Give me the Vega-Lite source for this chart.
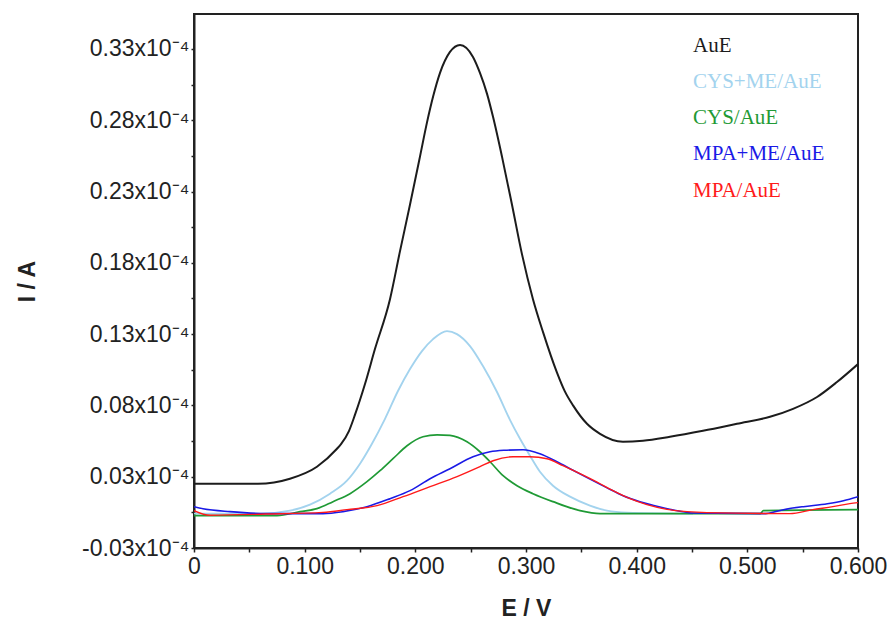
{
  "$schema": "https://vega.github.io/schema/vega-lite/v6.json",
  "autosize": "none",
  "padding": {"left": 194, "top": 14, "right": 35, "bottom": 75},
  "width": 664,
  "height": 534,
  "background": "white",
  "config": {
    "view": {"stroke": "#222", "strokeWidth": 2},
    "axis": {"grid": false, "domainColor": "#222", "domainWidth": 2, "tickColor": "#222", "tickWidth": 1.5, "labelFont": "Liberation Sans", "labelColor": "#222", "titleFont": "Liberation Sans", "titleColor": "#222"}
  },
  "data": {"values": [
    {"series": "AuE", "E": 0, "I": 0.0251},
    {"series": "AuE", "E": 0.0578, "I": 0.0251},
    {"series": "AuE", "E": 0.0867, "I": 0.0286},
    {"series": "AuE", "E": 0.1111, "I": 0.0370},
    {"series": "AuE", "E": 0.1292, "I": 0.0496},
    {"series": "AuE", "E": 0.1330, "I": 0.0530},
    {"series": "AuE", "E": 0.1400, "I": 0.0620},
    {"series": "AuE", "E": 0.1455, "I": 0.0735},
    {"series": "AuE", "E": 0.1545, "I": 0.0950},
    {"series": "AuE", "E": 0.1635, "I": 0.1195},
    {"series": "AuE", "E": 0.1771, "I": 0.1545},
    {"series": "AuE", "E": 0.1861, "I": 0.1880},
    {"series": "AuE", "E": 0.1952, "I": 0.2209},
    {"series": "AuE", "E": 0.2042, "I": 0.2545},
    {"series": "AuE", "E": 0.2105, "I": 0.2783},
    {"series": "AuE", "E": 0.2160, "I": 0.2964},
    {"series": "AuE", "E": 0.2223, "I": 0.3132},
    {"series": "AuE", "E": 0.2313, "I": 0.3279},
    {"series": "AuE", "E": 0.2404, "I": 0.3328},
    {"series": "AuE", "E": 0.2521, "I": 0.3244},
    {"series": "AuE", "E": 0.2584, "I": 0.3132},
    {"series": "AuE", "E": 0.2648, "I": 0.2985},
    {"series": "AuE", "E": 0.2702, "I": 0.2824},
    {"series": "AuE", "E": 0.2783, "I": 0.2545},
    {"series": "AuE", "E": 0.2873, "I": 0.2209},
    {"series": "AuE", "E": 0.2964, "I": 0.1859},
    {"series": "AuE", "E": 0.3063, "I": 0.1545},
    {"series": "AuE", "E": 0.3154, "I": 0.1314},
    {"series": "AuE", "E": 0.3280, "I": 0.1030},
    {"series": "AuE", "E": 0.3350, "I": 0.0900},
    {"series": "AuE", "E": 0.3425, "I": 0.0800},
    {"series": "AuE", "E": 0.3551, "I": 0.0671},
    {"series": "AuE", "E": 0.3669, "I": 0.0601},
    {"series": "AuE", "E": 0.3876, "I": 0.0545},
    {"series": "AuE", "E": 0.4057, "I": 0.0552},
    {"series": "AuE", "E": 0.4301, "I": 0.0580},
    {"series": "AuE", "E": 0.4599, "I": 0.0622},
    {"series": "AuE", "E": 0.4906, "I": 0.0671},
    {"series": "AuE", "E": 0.5205, "I": 0.0720},
    {"series": "AuE", "E": 0.5413, "I": 0.0776},
    {"series": "AuE", "E": 0.5630, "I": 0.0859},
    {"series": "AuE", "E": 0.5810, "I": 0.0964},
    {"series": "AuE", "E": 0.6, "I": 0.1090},

    {"series": "CYS+ME/AuE", "E": 0, "I": 0.0041},
    {"series": "CYS+ME/AuE", "E": 0.0596, "I": 0.0041},
    {"series": "CYS+ME/AuE", "E": 0.0867, "I": 0.0062},
    {"series": "CYS+ME/AuE", "E": 0.1048, "I": 0.0104},
    {"series": "CYS+ME/AuE", "E": 0.1229, "I": 0.0181},
    {"series": "CYS+ME/AuE", "E": 0.1382, "I": 0.0272},
    {"series": "CYS+ME/AuE", "E": 0.1500, "I": 0.0391},
    {"series": "CYS+ME/AuE", "E": 0.1608, "I": 0.0531},
    {"series": "CYS+ME/AuE", "E": 0.1726, "I": 0.0706},
    {"series": "CYS+ME/AuE", "E": 0.1843, "I": 0.0901},
    {"series": "CYS+ME/AuE", "E": 0.1952, "I": 0.1055},
    {"series": "CYS+ME/AuE", "E": 0.2060, "I": 0.1181},
    {"series": "CYS+ME/AuE", "E": 0.2160, "I": 0.1265},
    {"series": "CYS+ME/AuE", "E": 0.2286, "I": 0.1321},
    {"series": "CYS+ME/AuE", "E": 0.2376, "I": 0.1300},
    {"series": "CYS+ME/AuE", "E": 0.2494, "I": 0.1216},
    {"series": "CYS+ME/AuE", "E": 0.2611, "I": 0.1076},
    {"series": "CYS+ME/AuE", "E": 0.2738, "I": 0.0894},
    {"series": "CYS+ME/AuE", "E": 0.2855, "I": 0.0699},
    {"series": "CYS+ME/AuE", "E": 0.2946, "I": 0.0566},
    {"series": "CYS+ME/AuE", "E": 0.3036, "I": 0.0447},
    {"series": "CYS+ME/AuE", "E": 0.3126, "I": 0.0335},
    {"series": "CYS+ME/AuE", "E": 0.3244, "I": 0.0237},
    {"series": "CYS+ME/AuE", "E": 0.3398, "I": 0.0160},
    {"series": "CYS+ME/AuE", "E": 0.3578, "I": 0.0097},
    {"series": "CYS+ME/AuE", "E": 0.3732, "I": 0.0062},
    {"series": "CYS+ME/AuE", "E": 0.3913, "I": 0.0048},
    {"series": "CYS+ME/AuE", "E": 0.4509, "I": 0.0041},

    {"series": "CYS/AuE", "E": 0, "I": 0.0027},
    {"series": "CYS/AuE", "E": 0.0750, "I": 0.0027},
    {"series": "CYS/AuE", "E": 0.0958, "I": 0.0055},
    {"series": "CYS/AuE", "E": 0.1111, "I": 0.0076},
    {"series": "CYS/AuE", "E": 0.1256, "I": 0.0125},
    {"series": "CYS/AuE", "E": 0.1410, "I": 0.0181},
    {"series": "CYS/AuE", "E": 0.1563, "I": 0.0265},
    {"series": "CYS/AuE", "E": 0.1681, "I": 0.0342},
    {"series": "CYS/AuE", "E": 0.1798, "I": 0.0426},
    {"series": "CYS/AuE", "E": 0.1925, "I": 0.0517},
    {"series": "CYS/AuE", "E": 0.2069, "I": 0.0580},
    {"series": "CYS/AuE", "E": 0.2196, "I": 0.0594},
    {"series": "CYS/AuE", "E": 0.2313, "I": 0.0590},
    {"series": "CYS/AuE", "E": 0.2467, "I": 0.0545},
    {"series": "CYS/AuE", "E": 0.2584, "I": 0.0475},
    {"series": "CYS/AuE", "E": 0.2675, "I": 0.0405},
    {"series": "CYS/AuE", "E": 0.2793, "I": 0.0307},
    {"series": "CYS/AuE", "E": 0.2919, "I": 0.0237},
    {"series": "CYS/AuE", "E": 0.3063, "I": 0.0181},
    {"series": "CYS/AuE", "E": 0.3244, "I": 0.0125},
    {"series": "CYS/AuE", "E": 0.3488, "I": 0.0062},
    {"series": "CYS/AuE", "E": 0.3669, "I": 0.0041},
    {"series": "CYS/AuE", "E": 0.5116, "I": 0.0041},
    {"series": "CYS/AuE", "E": 0.5145, "I": 0.0062},
    {"series": "CYS/AuE", "E": 0.6, "I": 0.0069},

    {"series": "MPA+ME/AuE", "E": 0, "I": 0.0090},
    {"series": "MPA+ME/AuE", "E": 0.0081, "I": 0.0076},
    {"series": "MPA+ME/AuE", "E": 0.0325, "I": 0.0055},
    {"series": "MPA+ME/AuE", "E": 0.0660, "I": 0.0041},
    {"series": "MPA+ME/AuE", "E": 0.1165, "I": 0.0041},
    {"series": "MPA+ME/AuE", "E": 0.1346, "I": 0.0055},
    {"series": "MPA+ME/AuE", "E": 0.1563, "I": 0.0090},
    {"series": "MPA+ME/AuE", "E": 0.1771, "I": 0.0146},
    {"series": "MPA+ME/AuE", "E": 0.1952, "I": 0.0202},
    {"series": "MPA+ME/AuE", "E": 0.2133, "I": 0.0286},
    {"series": "MPA+ME/AuE", "E": 0.2313, "I": 0.0356},
    {"series": "MPA+ME/AuE", "E": 0.2521, "I": 0.0440},
    {"series": "MPA+ME/AuE", "E": 0.2675, "I": 0.0475},
    {"series": "MPA+ME/AuE", "E": 0.2800, "I": 0.0485},
    {"series": "MPA+ME/AuE", "E": 0.2973, "I": 0.0489},
    {"series": "MPA+ME/AuE", "E": 0.3126, "I": 0.0461},
    {"series": "MPA+ME/AuE", "E": 0.3280, "I": 0.0405},
    {"series": "MPA+ME/AuE", "E": 0.3425, "I": 0.0345},
    {"series": "MPA+ME/AuE", "E": 0.3578, "I": 0.0283},
    {"series": "MPA+ME/AuE", "E": 0.3732, "I": 0.0222},
    {"series": "MPA+ME/AuE", "E": 0.3877, "I": 0.0167},
    {"series": "MPA+ME/AuE", "E": 0.4030, "I": 0.0125},
    {"series": "MPA+ME/AuE", "E": 0.4211, "I": 0.0088},
    {"series": "MPA+ME/AuE", "E": 0.4392, "I": 0.0058},
    {"series": "MPA+ME/AuE", "E": 0.4509, "I": 0.0045},
    {"series": "MPA+ME/AuE", "E": 0.5145, "I": 0.0041},
    {"series": "MPA+ME/AuE", "E": 0.5325, "I": 0.0069},
    {"series": "MPA+ME/AuE", "E": 0.5506, "I": 0.0090},
    {"series": "MPA+ME/AuE", "E": 0.5723, "I": 0.0111},
    {"series": "MPA+ME/AuE", "E": 0.5868, "I": 0.0132},
    {"series": "MPA+ME/AuE", "E": 0.6, "I": 0.0160},

    {"series": "MPA/AuE", "E": 0, "I": 0.0062},
    {"series": "MPA/AuE", "E": 0.0145, "I": 0.0030},
    {"series": "MPA/AuE", "E": 0.0650, "I": 0.0038},
    {"series": "MPA/AuE", "E": 0.1165, "I": 0.0050},
    {"series": "MPA/AuE", "E": 0.1382, "I": 0.0069},
    {"series": "MPA/AuE", "E": 0.1654, "I": 0.0097},
    {"series": "MPA/AuE", "E": 0.1889, "I": 0.0160},
    {"series": "MPA/AuE", "E": 0.2133, "I": 0.0230},
    {"series": "MPA/AuE", "E": 0.2377, "I": 0.0300},
    {"series": "MPA/AuE", "E": 0.2584, "I": 0.0370},
    {"series": "MPA/AuE", "E": 0.2702, "I": 0.0412},
    {"series": "MPA/AuE", "E": 0.2883, "I": 0.0440},
    {"series": "MPA/AuE", "E": 0.3036, "I": 0.0440},
    {"series": "MPA/AuE", "E": 0.3190, "I": 0.0426},
    {"series": "MPA/AuE", "E": 0.3334, "I": 0.0377},
    {"series": "MPA/AuE", "E": 0.3488, "I": 0.0321},
    {"series": "MPA/AuE", "E": 0.3642, "I": 0.0262},
    {"series": "MPA/AuE", "E": 0.3786, "I": 0.0202},
    {"series": "MPA/AuE", "E": 0.3940, "I": 0.0146},
    {"series": "MPA/AuE", "E": 0.4093, "I": 0.0104},
    {"series": "MPA/AuE", "E": 0.4274, "I": 0.0071},
    {"series": "MPA/AuE", "E": 0.4455, "I": 0.0055},
    {"series": "MPA/AuE", "E": 0.4636, "I": 0.0048},
    {"series": "MPA/AuE", "E": 0.5384, "I": 0.0041},
    {"series": "MPA/AuE", "E": 0.5591, "I": 0.0069},
    {"series": "MPA/AuE", "E": 0.5772, "I": 0.0090},
    {"series": "MPA/AuE", "E": 0.5926, "I": 0.0111},
    {"series": "MPA/AuE", "E": 0.6, "I": 0.0118}
  ]},
  "mark": {"type": "line", "interpolate": "monotone", "clip": true},
  "encoding": {
    "x": {
      "field": "E", "type": "quantitative",
      "scale": {"domain": [0, 0.6], "nice": false, "zero": false},
      "axis": {
        "title": "E / V",
        "titleFontSize": 23, "titleFontWeight": "bold",
        "titleX": 332, "titleY": 60, "titleBaseline": "middle", "titleAlign": "center",
        "values": [0, 0.05, 0.1, 0.15, 0.2, 0.25, 0.3, 0.35, 0.4, 0.45, 0.5, 0.55, 0.6],
        "labelExpr": "round(datum.value*20) % 2 == 0 ? (datum.value == 0 ? '0' : format(datum.value, '.3f')) : ''",
        "labelFontSize": 23, "labelPadding": 3, "tickSize": 4,
        "labelFlush": false, "labelOverlap": false
      }
    },
    "y": {
      "field": "I", "type": "quantitative",
      "scale": {"domain": [-0.02, 0.3545], "nice": false, "zero": false},
      "axis": {
        "title": "I / A",
        "titleFontSize": 23, "titleFontWeight": "bold",
        "titleX": -167, "titleY": 267, "titleAngle": -90, "titleBaseline": "middle", "titleAlign": "center",
        "values": [-0.02, 0.005, 0.03, 0.055, 0.08, 0.105, 0.13, 0.155, 0.18, 0.205, 0.23, 0.255, 0.28, 0.305, 0.33],
        "labelExpr": "round((datum.value + 0.02) * 40) % 2 == 0 ? (datum.value < 0 ? '-0.03x10⁻⁴' : format(datum.value, '.2f') + 'x10⁻⁴') : ''",
        "labelFontSize": 23, "labelPadding": 2, "tickSize": 3,
        "labelFlush": false, "labelOverlap": false
      }
    },
    "strokeWidth": {
      "field": "series", "type": "nominal",
      "scale": {
        "domain": ["AuE", "CYS+ME/AuE", "CYS/AuE", "MPA+ME/AuE", "MPA/AuE"],
        "range": [2, 1.4, 1.8, 1.8, 1.8]
      },
      "legend": null
    },
    "color": {
      "field": "series", "type": "nominal",
      "scale": {
        "domain": ["AuE", "CYS+ME/AuE", "CYS/AuE", "MPA+ME/AuE", "MPA/AuE"],
        "range": ["#1c1c1c", "#a3d3ee", "#1f9a35", "#1a1ae6", "#ff1a1a"]
      },
      "legend": {
        "orient": "none", "legendX": 478, "legendY": 21,
        "title": null,
        "symbolSize": 0, "symbolStrokeWidth": 0, "symbolOpacity": 0,
        "labelOffset": 0, "padding": 0,
        "labelFont": "Liberation Serif", "labelFontSize": 21,
        "labelColor": {"expr": "scale('color', datum.value)"},
        "rowPadding": 14.3, "labelLimit": 300
      }
    }
  }
}
